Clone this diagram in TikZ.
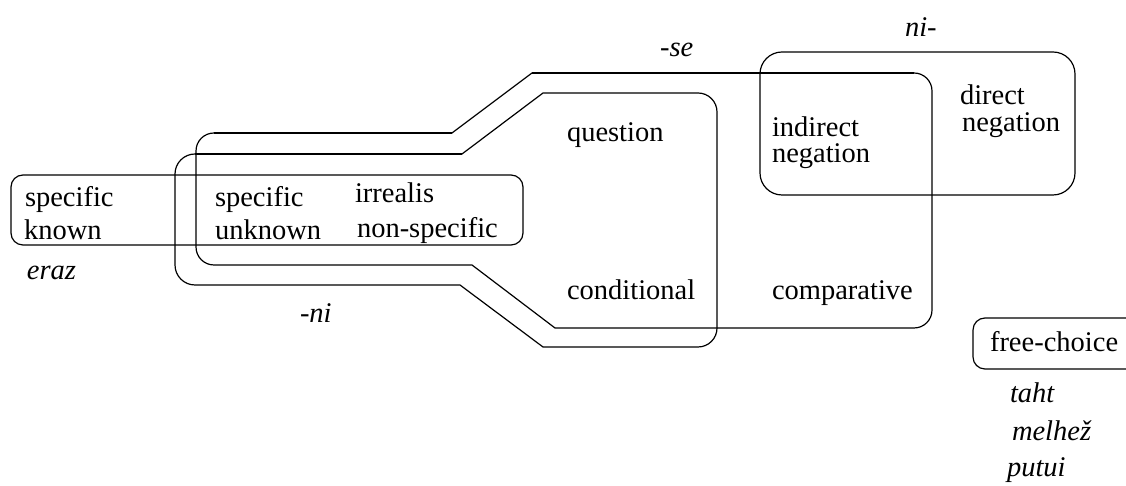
\documentclass[tikz,border=0pt]{standalone}
\usepackage{fontspec}
\setmainfont{Liberation Serif}
\begin{document}
\begin{tikzpicture}[x=1pt,y=1pt,
  every node/.style={inner sep=0pt,outer sep=0pt,font=\fontsize{28.5}{34}\selectfont},
  lbl/.style={anchor=base west},
  it/.style={anchor=base west,font=\fontsize{28.5}{34}\selectfont\itshape},
  shapeline/.style={line width=1.2pt},
  thickline/.style={line width=1.9pt}]
\useasboundingbox (0,0) rectangle (1126,486);

% box: specific known ... non-specific
\draw[shapeline, rounded corners=12pt] (11,241) rectangle (523,311);
% box: ni-
\draw[shapeline, rounded corners=22pt] (760,291) rectangle (1075,434);
% box: free-choice (open at the right edge)
\draw[shapeline] (1126,168) -- (985,168) arc[start angle=90,end angle=180,radius=12]
  -- (973,129) arc[start angle=180,end angle=270,radius=12] -- (1126,117);

% shape -se
\draw[shapeline] (214,353) -- (452,353) -- (532,413) -- (914,413)
  arc[start angle=90,end angle=0,radius=18] -- (932,176)
  arc[start angle=0,end angle=-90,radius=18] -- (555,158) -- (472,221) -- (214,221)
  arc[start angle=270,end angle=180,radius=18] -- (196,335)
  arc[start angle=180,end angle=90,radius=18] -- cycle;
% shape -ni
\draw[shapeline] (195,332) -- (462,332) -- (543,393) -- (698,393)
  arc[start angle=90,end angle=0,radius=19] -- (717,158)
  arc[start angle=0,end angle=-90,radius=19] -- (543,139) -- (460,201) -- (195,201)
  arc[start angle=270,end angle=180,radius=20] -- (175,312)
  arc[start angle=180,end angle=90,radius=20] -- cycle;
% heavier strokes
\draw[thickline] (214,353) -- (452,353);
\draw[thickline] (532,413) -- (914,413);
\draw[thickline] (195,332) -- (462,332);

% texts
\node[lbl] (sk1) at (25,279) {specific};
\node[lbl] (sk2) at (24,246) {known};
\node[lbl] (su1) at (215,279) {specific};
\node[lbl] (su2) at (215,246) {unknown};
\node[lbl] (ir1) at (355,283) {irrealis};
\node[lbl] (ir2) at (357,248) {non-specific};
\node[it] (eraz) at (27,206) {eraz};
\node[lbl] (q) at (567,344) {question};
\node[lbl] (cond) at (567,186) {conditional};
\node[lbl] (comp) at (772,186) {comparative};
\node[lbl] (ind1) at (772,349) {indirect};
\node[lbl] (ind2) at (772,323) {negation};
\node[lbl] (dir1) at (960,381) {direct};
\node[lbl] (dir2) at (962,354) {negation};
\node[it] (se) at (660,429) {-se};
\node[it] (ni) at (905,449) {ni-};
\node[it] (mni) at (300,163) {-ni};
\node[lbl] (fc) at (990,134) {free-choice};
\node[it] (taht) at (1010,83) {taht};
\node[it] (melhez) at (1012,45) {melhež};
\node[it] (putui) at (1007,9) {putui};
\end{tikzpicture}
\end{document}
